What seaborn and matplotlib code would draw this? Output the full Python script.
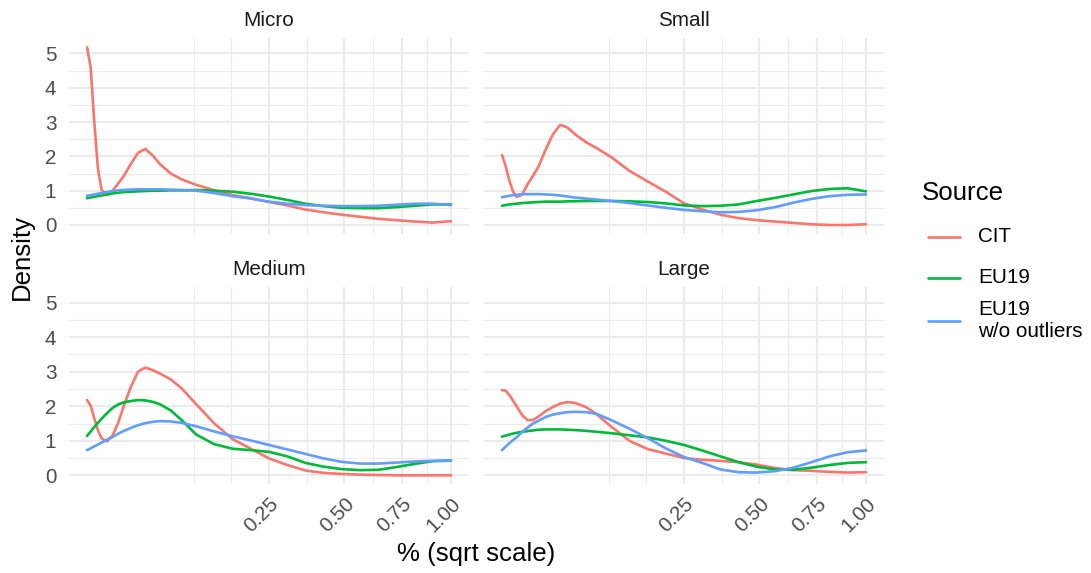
import numpy as np
import pandas as pd
import matplotlib
matplotlib.use("Agg")
import matplotlib.pyplot as plt
from matplotlib.lines import Line2D
import seaborn as sns

# ---------------- data ----------------
# evaluation grid in original units (% as fraction)
x_grid = [0, 0.0001, 0.0004, 0.0009, 0.0016, 0.003025, 0.0049, 0.007225, 0.01,
          0.0144, 0.0196, 0.0256, 0.0324, 0.04, 0.0529, 0.0676, 0.09, 0.1225,
          0.16, 0.2025, 0.25, 0.3025, 0.36, 0.4225, 0.49, 0.5625, 0.64, 0.7225,
          0.81, 0.9025, 1.0]

sizes = ["Micro", "Small", "Medium", "Large"]
sources = ["CIT", "EU19", "EU19\nw/o outliers"]

micro_cit = [5.18, 4.6, 3.0, 1.65, 1.02, 0.87, 1.0, 1.2, 1.41, 1.77, 2.1, 2.22, 2.03, 1.78,
             1.5, 1.33, 1.17, 1.01, 0.87, 0.78, 0.67, 0.57, 0.45, 0.37, 0.3, 0.24, 0.18,
             0.14, 0.1, 0.07, 0.11]
micro_eu = [0.78, 0.8, 0.82, 0.84, 0.86, 0.89, 0.92, 0.94, 0.96, 0.97, 0.98, 0.99, 1.0, 1.0,
            1.01, 1.01, 1.02, 1.0, 0.97, 0.91, 0.83, 0.73, 0.62, 0.55, 0.5, 0.49, 0.49,
            0.52, 0.56, 0.6, 0.6]
micro_euwo = [0.85, 0.87, 0.89, 0.91, 0.93, 0.96, 0.99, 1.01, 1.02, 1.03, 1.04, 1.04, 1.04,
              1.04, 1.03, 1.02, 1.0, 0.93, 0.84, 0.77, 0.68, 0.62, 0.58, 0.56, 0.55, 0.55,
              0.56, 0.59, 0.62, 0.62, 0.58]

small_cit = [2.04, 1.72, 1.3, 0.98, 0.82, 0.88, 1.18, 1.43, 1.7, 2.2, 2.65, 2.92, 2.84, 2.65,
             2.42, 2.24, 1.98, 1.58, 1.27, 0.97, 0.63, 0.45, 0.3, 0.2, 0.14, 0.1, 0.06,
             0.02, 0.0, 0.0, 0.02]
small_eu = [0.56, 0.58, 0.6, 0.61, 0.62, 0.64, 0.65, 0.66, 0.67, 0.68, 0.68, 0.68, 0.69, 0.69,
            0.7, 0.7, 0.7, 0.69, 0.67, 0.63, 0.57, 0.55, 0.56, 0.6, 0.7, 0.79, 0.89, 0.99,
            1.05, 1.07, 0.98]
small_euwo = [0.81, 0.83, 0.85, 0.87, 0.88, 0.9, 0.9, 0.9, 0.9, 0.89, 0.88, 0.86, 0.83, 0.8,
              0.77, 0.74, 0.7, 0.64, 0.57, 0.5, 0.44, 0.4, 0.37, 0.38, 0.43, 0.52, 0.65,
              0.76, 0.84, 0.88, 0.89]

medium_cit = [2.18, 2.02, 1.65, 1.3, 1.07, 0.98, 1.15, 1.5, 1.98, 2.55, 3.0, 3.12, 3.05, 2.95,
              2.78, 2.52, 2.06, 1.5, 1.05, 0.77, 0.49, 0.3, 0.14, 0.07, 0.04, 0.02, 0.01,
              0.0, 0.0, 0.0, 0.0]
medium_eu = [1.14, 1.27, 1.4, 1.52, 1.64, 1.8, 1.95, 2.05, 2.11, 2.15, 2.18, 2.17, 2.13, 2.06,
             1.88, 1.6, 1.18, 0.9, 0.77, 0.73, 0.68, 0.55, 0.36, 0.25, 0.18, 0.15, 0.16,
             0.24, 0.33, 0.41, 0.43]
medium_euwo = [0.73, 0.78, 0.84, 0.89, 0.95, 1.03, 1.11, 1.2, 1.28, 1.37, 1.45, 1.51, 1.55,
               1.57, 1.56, 1.52, 1.42, 1.27, 1.13, 1.01, 0.88, 0.75, 0.62, 0.49, 0.39, 0.34,
               0.34, 0.37, 0.4, 0.42, 0.42]

large_cit = [2.47, 2.45, 2.33, 2.17, 2.0, 1.75, 1.6, 1.6, 1.7, 1.86, 1.98, 2.08, 2.12, 2.1,
             1.98, 1.77, 1.41, 1.0, 0.76, 0.63, 0.5, 0.45, 0.42, 0.38, 0.31, 0.21, 0.15,
             0.13, 0.1, 0.08, 0.09]
large_eu = [1.12, 1.15, 1.18, 1.21, 1.23, 1.26, 1.28, 1.3, 1.32, 1.33, 1.33, 1.33, 1.32, 1.31,
            1.29, 1.26, 1.22, 1.16, 1.1, 1.0, 0.88, 0.72, 0.55, 0.38, 0.25, 0.17, 0.16,
            0.22, 0.3, 0.36, 0.38]
large_euwo = [0.73, 0.83, 0.93, 1.02, 1.1, 1.25, 1.38, 1.5, 1.58, 1.69, 1.76, 1.8, 1.83, 1.84,
              1.83, 1.78, 1.6, 1.35, 1.08, 0.78, 0.53, 0.36, 0.17, 0.09, 0.08, 0.12, 0.22,
              0.38, 0.55, 0.67, 0.72]

x_breaks = [0.25, 0.50, 0.75, 1.00]
x_labels = ["0.25", "0.50", "0.75", "1.00"]
y_breaks = [0, 1, 2, 3, 4, 5]

series = {
    "Micro": [micro_cit, micro_eu, micro_euwo],
    "Small": [small_cit, small_eu, small_euwo],
    "Medium": [medium_cit, medium_eu, medium_euwo],
    "Large": [large_cit, large_eu, large_euwo],
}

rows = []
for size in sizes:
    for src, vals in zip(sources, series[size]):
        for xv, yv in zip(x_grid, vals):
            rows.append({"Size": size, "Source": src, "x": xv, "Density": yv})
df = pd.DataFrame(rows)

# ---------------- style ----------------
sns.set_theme(style="white")
plt.rcParams["font.family"] = ["Liberation Sans", "DejaVu Sans"]
palette = {"CIT": "#F8766D", "EU19": "#00BA38", "EU19\nw/o outliers": "#619CFF"}
grid_col = "#EBEBEB"
tick_col = "#4D4D4D"
small_fs = 14.9
big_fs = 18.6
line_w = 1.9

W, H = 1091, 573
fig = plt.figure(figsize=(W / 100, H / 100), dpi=100)


def fwd(v):
    v = np.asarray(v, dtype=float)
    return np.sign(v) * np.sqrt(np.abs(v))


def inv(v):
    v = np.asarray(v, dtype=float)
    return np.sign(v) * v ** 2


# panel boxes in pixels (left, top, right, bottom)
boxes = {
    "Micro": (68.8, 38.4, 469.2, 233.9),
    "Small": (483.8, 38.4, 884.2, 233.9),
    "Medium": (68.8, 287.5, 469.2, 484.3),
    "Large": (483.8, 287.5, 884.2, 484.3),
}

# minor breaks as ggplot computes them (midpoints in sqrt space, plus one before)
sb = fwd(x_breaks)
d = np.diff(sb)
ext = np.concatenate([[sb[0] - d[0]], sb])
minor_x = inv((ext[:-1] + ext[1:]) / 2).tolist() + [inv(ext[0]).item()]
minor_y = [0.5, 1.5, 2.5, 3.5, 4.5]

for i, size in enumerate(sizes):
    l, t, r, b = boxes[size]
    ax = fig.add_axes([l / W, 1 - b / H, (r - l) / W, (b - t) / H])
    ax.set_xscale("function", functions=(fwd, inv))
    ax.set_xlim(-(0.05 ** 2), 1.05 ** 2)
    ax.set_ylim(-0.26, 5.44)
    for s in ax.spines.values():
        s.set_visible(False)
    for mx in minor_x:
        ax.axvline(mx, color=grid_col, lw=0.8, zorder=0)
    for my in minor_y:
        ax.axhline(my, color=grid_col, lw=0.8, zorder=0)
    for mx in x_breaks:
        ax.axvline(mx, color=grid_col, lw=1.5, zorder=0)
    for my in y_breaks:
        ax.axhline(my, color=grid_col, lw=1.5, zorder=0)

    sns.lineplot(data=df[df["Size"] == size], x="x", y="Density", hue="Source",
                 hue_order=sources, palette=palette, estimator=None, sort=False,
                 lw=line_w, ax=ax, legend=False, zorder=3)

    ax.set_xlabel("")
    ax.set_ylabel("")
    ax.set_xticks(x_breaks)
    ax.set_yticks(y_breaks)
    ax.xaxis.set_minor_locator(matplotlib.ticker.NullLocator())
    ax.tick_params(length=0, colors=tick_col, labelsize=small_fs)
    if i % 2 == 0:
        ax.set_yticklabels([str(v) for v in y_breaks])
        ax.tick_params(axis="y", pad=9)
    else:
        ax.set_yticklabels([])
    if i >= 2:
        ax.set_xticklabels(x_labels, rotation=45, ha="right", va="top",
                           rotation_mode="anchor")
        ax.tick_params(axis="x", pad=7)
    else:
        ax.set_xticklabels([])
    ax.set_title(size, fontsize=small_fs, color="#1A1A1A", pad=9)

fig.text(476 / W, 1 - 554 / H, "% (sqrt scale)", ha="center", va="center",
         fontsize=big_fs, color="black")
fig.text(22 / W, 1 - 257 / H, "Density", ha="center", va="center",
         rotation=90, fontsize=big_fs, color="black")

# ---------------- legend (ggplot-like layout) ----------------
fig.text(922 / W, 1 - 193 / H, "Source", ha="left", va="center",
         fontsize=big_fs, color="black")
key_y = [237, 278, 321]
for src, ky in zip(sources, key_y):
    fig.add_artist(Line2D([928 / W, 960 / W], [1 - ky / H, 1 - ky / H],
                          color=palette[src], lw=line_w, transform=fig.transFigure))
    fig.text(978 / W, 1 - (ky - 0.5) / H, src, ha="left", va="center",
             fontsize=small_fs, color="black", linespacing=1.15)

fig.savefig("out.png", dpi=100, facecolor="white")
